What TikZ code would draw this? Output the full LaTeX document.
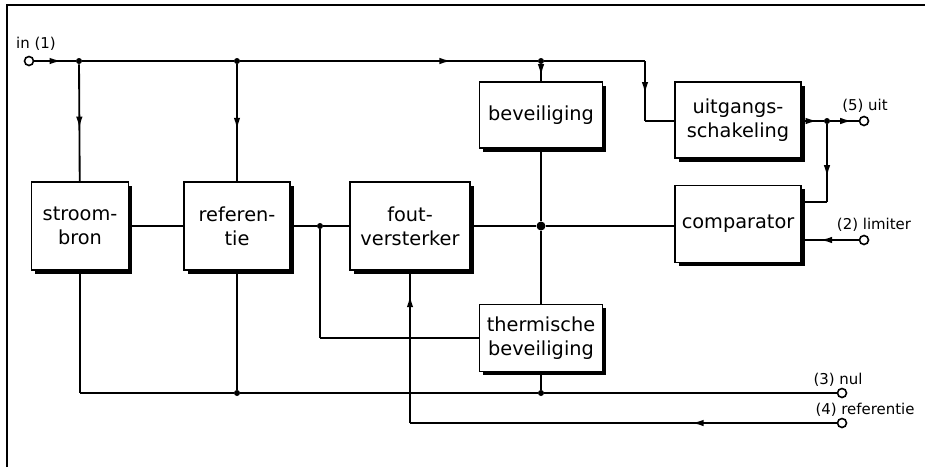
\documentclass[tikz,border=0pt]{standalone}
\usepackage{fontspec}
\setsansfont{DejaVu Sans}
\usetikzlibrary{arrows.meta}
\usetikzlibrary{shadows}
\usetikzlibrary{decorations.markings}

\begin{document}
\begin{tikzpicture}[x=0.02cm,y=-0.02cm,font=\sffamily]
\useasboundingbox (0,0) rectangle (925,467);
\draw [line width=1.4pt] (7,467) -- (7,5) -- (925,5);
\begin{scope}[every node/.style={rectangle,draw,fill=white,line width=1pt,align=center,inner sep=2pt,
              font=\sffamily\fontsize{11}{13.5}\selectfont,
              drop shadow={shadow xshift=0.075cm,shadow yshift=-0.075cm,fill=black,opacity=1}}]
    \node[minimum width=1.94cm,minimum height=1.76cm] (bron) at (80,226) {stroom-\\bron};
    \node[minimum width=2.12cm,minimum height=1.76cm] (ref) at (237,226) {referen-\\tie};
    \node[minimum width=2.40cm,minimum height=1.76cm] (fout) at (410,226) {fout-\\versterker};
    \node[minimum width=2.46cm,minimum height=1.32cm] (bev) at (541,115) {beveiliging};
    \node[minimum width=2.46cm,minimum height=1.34cm] (therm) at (541,338) {thermische\\beveiliging};
    \node[minimum width=2.52cm,minimum height=1.52cm] (uit) at (738,120) {uitgangs-\\schakeling};
    \node[minimum width=2.52cm,minimum height=1.54cm] (comp) at (738,224) {comparator};
\end{scope}
\begin{scope}[every node/.style={circle,fill=black,inner sep=0pt,minimum size=0.12cm}]
    \node (j1) at (79,61) {};
    \node (j2) at (237,61) {};
    \node (j3) at (541,61) {};
    \node (d1) at (320,226) {};
    \node[minimum size=0.18cm] (d2) at (541,226) {};
    \node (d5) at (827,121) {};
    \node (d6) at (237,393) {};
    \node (d7) at (541,393) {};
\end{scope}
\begin{scope}[every node/.style={circle,draw,fill=white,line width=0.9pt,inner sep=0pt,minimum size=0.18cm}]
    \node (in) at (29,61) {};
    \node (o5) at (864,121) {};
    \node (o2) at (864,240) {};
    \node (o3) at (842,393) {};
    \node (o4) at (842,423) {};
\end{scope}
\begin{scope}[every node/.style={font=\sffamily\fontsize{8.5}{10}\selectfont,inner sep=0pt}]
    \node (lin) at (36,44) {in (1)};
    \node (l5) at (865,106) {(5) uit};
    \node (l2) at (874,225) {(2) limiter};
    \node (l3) at (838,380) {(3) nul};
    \node (l4) at (865,410) {(4) referentie};
\end{scope}
\coordinate (c1) at (645,61);
\coordinate (c2) at (645,121);
\coordinate (c3) at (827,202);
\coordinate (c4) at (320,338);
\coordinate (c5) at (80,393);
\coordinate (c6) at (410,423);
\begin{scope}[wire/.style={draw=black,line width=1.05pt},
              arr/.style={wire,postaction={decorate},
                decoration={markings,mark=at position #1 with {\arrow{Latex[length=2.4mm,width=1.3mm]}}}}]
    % ingang
    \path (in) edge [arr=0.66] (j1);
    \path (j1) edge [wire] (j2);
    \path (j2) edge [arr=0.71] (j3);
    \path (j1) edge [arr=0.55] (bron);
    \path (j2) edge [arr=0.56] (ref);
    \path (j3) edge [arr=0.7] (bev);
    \path (j3) edge [wire] (c1);
    \path (c1) edge [arr=0.55] (c2);
    \path (c2) edge [wire] (c2 -| uit.west);
    % uitgang
    \path (uit.east |- d5) edge [arr=0.72] (d5);
    \path (d5) edge [arr=0.77] (o5);
    \path (d5) edge [arr=0.68] (c3);
    \path (c3) edge [wire] (c3 -| comp.east);
    \path (o2) edge [arr=0.68] (o2 -| comp.east);
    % middenlijn
    \path (bron) edge [wire] (ref);
    \path (ref) edge [wire] (d1);
    \path (d1) edge [wire] (fout);
    \path (fout) edge [wire] (d2);
    \path (d2) edge [wire] (d2 -| comp.west);
    \path (bev) edge [wire] (d2);
    \path (d2) edge [wire] (therm);
    \path (d1) edge [wire] (c4);
    \path (c4) edge [wire] (c4 -| therm.west);
    % nul en referentie
    \path (bron) edge [wire] (c5);
    \path (c5) edge [wire] (d6);
    \path (ref) edge [wire] (d6);
    \path (d6) edge [wire] (d7);
    \path (therm) edge [wire] (d7);
    \path (d7) edge [wire] (o3);
    \path (o4) edge [arr=0.34] (c6);
    \path (c6) edge [arr=0.84] (fout);
\end{scope}
\end{tikzpicture}
\end{document}
